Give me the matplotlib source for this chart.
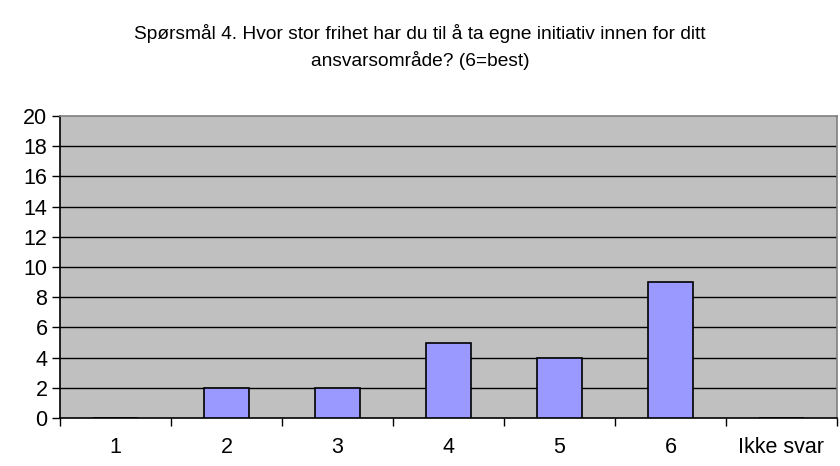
import matplotlib
matplotlib.use("Agg")
import matplotlib.pyplot as plt
import numpy as np

plt.rcParams['font.family'] = ['Liberation Sans', 'DejaVu Sans']

categories = ["1", "2", "3", "4", "5", "6", "Ikke svar"]
values = [0, 2, 2, 5, 4, 9, 0]
yticks = list(range(0, 21, 2))
title = "Spørsmål 4. Hvor stor frihet har du til å ta egne initiativ innen for ditt\nansvarsområde? (6=best)"

fig = plt.figure(figsize=(8.4, 4.66), dpi=100)
ax = fig.add_axes([60/840, 1-418/466, 777/840, 302/466])
ax.set_facecolor('#C0C0C0')

x = np.arange(len(categories))
ax.bar(x, values, width=0.4, color='#9999FF', edgecolor='black', linewidth=1.2, zorder=3)

ax.set_xlim(-0.5, len(categories) - 0.5)
ax.set_ylim(0, 20)
ax.set_yticks(yticks)
ax.set_yticklabels([str(t) for t in yticks], fontsize=15.5)
for t in yticks[1:-1]:
    ax.axhline(t, color='black', linewidth=1.0, zorder=1)

ax.set_xticks(np.arange(-0.5, len(categories), 1.0))
ax.set_xticklabels([])
ax.set_xticks(x, minor=True)
ax.set_xticklabels(categories, minor=True, fontsize=15.5)
ax.tick_params(axis='x', which='minor', length=0, pad=14)
ax.tick_params(axis='x', which='major', length=6, width=1, direction='out')
ax.tick_params(axis='y', length=6, width=1, direction='out', pad=3)

for s in ['top', 'right']:
    ax.spines[s].set_color('#808080')
    ax.spines[s].set_linewidth(1.2)
ax.spines['left'].set_color('black')
ax.spines['bottom'].set_color('black')
ax.spines['left'].set_linewidth(1.2)
ax.spines['bottom'].set_linewidth(1.2)

fig.text(0.5, 1-47/466, title, ha='center', va='center', fontsize=13.8, linespacing=1.5)

fig.savefig("out.png", dpi=100)
